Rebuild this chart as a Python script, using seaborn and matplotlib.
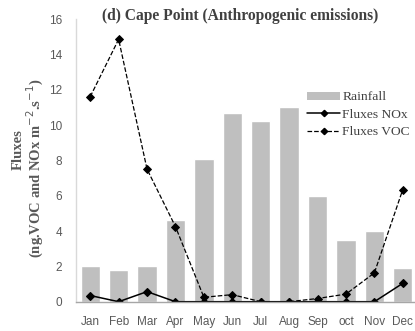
import matplotlib
matplotlib.use("Agg")
import matplotlib.pyplot as plt
import seaborn as sns
import pandas as pd
from matplotlib.lines import Line2D
from matplotlib.patches import Patch

months = ["Jan", "Feb", "Mar", "Apr", "May", "Jun", "Jul", "Aug", "Sep", "oct", "Nov", "Dec"]
rainfall = [2.0, 1.8, 2.0, 4.6, 8.1, 10.7, 10.2, 11.0, 6.0, 3.5, 4.0, 1.9]
fluxes_nox = [0.35, 0.0, 0.57, 0.0, 0.0, 0.0, 0.0, 0.0, 0.0, 0.0, 0.0, 1.04]
fluxes_voc = [11.6, 14.85, 7.5, 4.25, 0.25, 0.4, 0.0, 0.0, 0.18, 0.43, 1.63, 6.35]
yticks = [0, 2, 4, 6, 8, 10, 12, 14, 16]

df = pd.DataFrame({"month": months, "rain": rainfall, "nox": fluxes_nox, "voc": fluxes_voc})

sns.set_theme(style="white")
plt.rcParams["font.family"] = ["Liberation Serif", "DejaVu Serif"]

fig = plt.figure(figsize=(4.15, 3.31), dpi=100)
ax = fig.add_axes([76 / 415, (331 - 301.7) / 331, (417 - 76) / 415, 282.7 / 331])

sns.barplot(data=df, x="month", y="rain", color="#bfbfbf", saturation=1,
            width=0.68, ax=ax, order=months)
sns.pointplot(data=df, x="month", y="nox", color="black", markers="D",
              linestyles="-", order=months, ax=ax,
              markersize=3.6, linewidth=1.1)
sns.pointplot(data=df, x="month", y="voc", color="black", markers="D",
              linestyles="--", order=months, ax=ax,
              markersize=3.6, linewidth=0.9)

ax.set_xlim(-0.5, 11.5)
ax.set_ylim(0, 16)
ax.set_xlabel("")
ax.set_ylabel("")
tick_font = dict(family=["Liberation Sans Narrow", "Liberation Sans", "DejaVu Sans"], size=8.5)
ax.set_yticks(yticks)
ax.set_yticklabels([str(v) for v in yticks], color="#595959", fontdict=tick_font)
ax.set_xticks(range(len(months)))
ax.set_xticklabels(months, color="#595959", fontdict=tick_font)
ax.tick_params(axis="x", length=0, pad=10)
ax.tick_params(axis="y", length=0, pad=10)

for side in ["top", "right"]:
    ax.spines[side].set_visible(False)
ax.spines["left"].set_color("#d9d9d9")
ax.spines["left"].set_linewidth(1.0)
ax.spines["bottom"].set_color("#a6a6a6")
ax.spines["bottom"].set_linewidth(1.0)

fig.text(240 / 415, 1 - 16 / 331, "(d) Cape Point (Anthropogenic emissions)",
         ha="center", va="center", fontsize=11.2, fontweight="bold", color="#404040")

fig.text(18 / 415, 1 - 150 / 331, "Fluxes", rotation=90, ha="center", va="center",
         fontsize=10.5, fontweight="bold", color="#595959")
fig.text(35 / 415, 1 - 168 / 331, "(ng.VOC and NOx m$^{-2}$.s$^{-1}$)", rotation=90,
         ha="center", va="center", fontsize=10.5, fontweight="bold", color="#595959")

handles = [
    Patch(facecolor="#bfbfbf", edgecolor="none"),
    Line2D([], [], color="black", linestyle="-", marker="D", markersize=3.2, linewidth=1.1),
    Line2D([], [], color="black", linestyle="--", marker="D", markersize=3.2, linewidth=0.9),
]
leg = ax.legend(handles, ["Rainfall", "Fluxes NOx", "Fluxes VOC"],
                loc="upper left", bbox_to_anchor=((302 - 76) / 341, (301.7 - 86) / 282.7),
                frameon=False, fontsize=9.7, handlelength=2.4, handleheight=0.55,
                handletextpad=0.2, labelspacing=0.4, borderaxespad=0)
for t in leg.get_texts():
    t.set_color("#404040")

fig.savefig("out.png", dpi=100)
